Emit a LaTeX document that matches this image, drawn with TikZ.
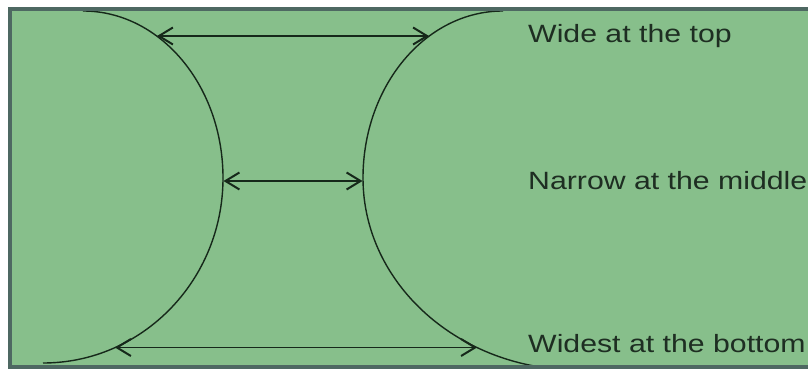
\documentclass[tikz,border=0pt]{standalone}
\usepackage{fontspec}
\setmainfont{Liberation Sans}
\usetikzlibrary{arrows.meta}
\definecolor{bggreen}{RGB}{135,191,139}
\definecolor{frame}{RGB}{78,104,98}
\definecolor{ink}{RGB}{22,40,26}
\definecolor{txt}{RGB}{30,46,34}
\tikzset{
  curve/.style={draw=ink, line width=1.4pt},
  span/.style={draw=ink, line width=1.8pt, {Straight Barb[length=14pt,width=17pt,line width=2pt]}-{Straight Barb[length=14pt,width=17pt,line width=2pt]}},
  label/.style={anchor=base west, inner sep=0pt, text=txt, font=\fontsize{25}{30}\selectfont}
}
\begin{document}
\begin{tikzpicture}[x=1pt,y=-1pt]
\useasboundingbox (0,0) rectangle (808,369);
\fill[white] (0,0) rectangle (808,369);
\fill[bggreen] (10,9) rectangle (812,367);
\begin{scope}
\clip (10,9) rectangle (812,366);
% left arc: two quarter ellipses meeting at the waist
\coordinate (lw) at (223,178);
\draw[curve] (lw) arc[start angle=0, end angle=-90, x radius=140, y radius=167];
\draw[curve] (lw) arc[start angle=0, end angle=90, x radius=180, y radius=185];
% right arc
\coordinate (rw) at (363,178);
\draw[curve] (rw) arc[start angle=180, end angle=270, x radius=140, y radius=167];
\draw[curve] (rw) arc[start angle=180, end angle=90, x radius=215, y radius=192];
\end{scope}
\draw[frame, line width=4pt] (10,9) rectangle (812,367);
% arrow end points on the arcs
\coordinate (lt) at (157,36);
\coordinate (rt) at (429,36);
\coordinate (lm) at (223.5,181);
\coordinate (rm) at (362.5,181);
\coordinate (lb) at (115,347.5);
\coordinate (rb) at (477,347.5);
\draw[span] (lt) -- (rt);
\draw[span] (lm) -- (rm);
\draw[span] (lb) -- (rb);
\node[label] (top) at (528,43) {\scalebox{1.21}[1]{Wide at the top}};
\node[label] (mid) at (528,189) {\scalebox{1.21}[1]{Narrow at the middle}};
\node[label] (bot) at (528,352) {\scalebox{1.21}[1]{Widest at the bottom}};
\end{tikzpicture}
\end{document}
